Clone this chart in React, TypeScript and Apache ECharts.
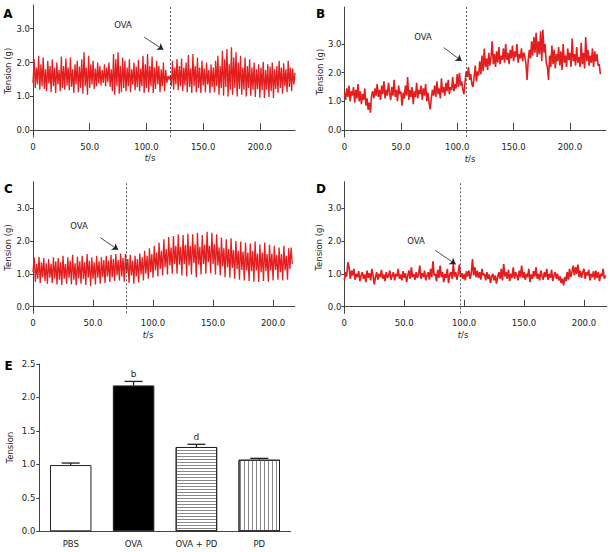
import React, { useEffect, useRef } from 'react';
import * as echarts from 'echarts';

// ---- trace data (tension in g, one reading every SAMPLE_STEP seconds) ----
const SAMPLE_STEP = 1;

const traceA = [
  1.40, 2.10, 1.25, 1.85, 1.35, 2.20, 1.20, 1.95, 1.30, 2.15,
  1.22, 1.80, 1.15, 2.05, 1.38, 1.90, 1.12, 2.10, 1.30, 1.85,
  1.10, 2.00, 1.35, 1.78, 1.15, 2.18, 1.25, 1.90, 1.20, 2.12,
  1.32, 1.85, 1.18, 2.15, 1.28, 1.80, 1.10, 1.95, 1.35, 2.05,
  1.12, 1.88, 1.25, 2.10, 1.08, 2.30, 1.30, 1.85, 1.05, 2.20,
  1.25, 1.95, 1.35, 2.05, 1.22, 1.82, 1.30, 2.00, 1.38, 1.90,
  1.32, 1.78, 1.40, 1.95, 1.30, 1.85, 1.42, 2.00, 1.28, 1.80,
  1.15, 2.25, 1.05, 2.10, 1.30, 2.30, 1.08, 1.90, 1.12, 2.15,
  1.25, 2.05, 1.15, 1.85, 1.30, 2.10, 1.12, 1.80, 1.35, 2.00,
  1.18, 1.88, 1.28, 2.08, 1.15, 1.82, 1.30, 2.20, 1.10, 1.95,
  1.25, 2.25, 1.12, 1.90, 1.30, 2.18, 1.10, 1.85, 1.22, 2.05,
  1.35, 1.90, 1.12, 1.80, 1.30, 2.00, 1.15, 1.78, 1.40, 1.60,
  1.50, 1.62, 1.30, 2.05, 1.20, 1.85, 1.35, 2.10, 1.18, 1.90,
  1.30, 2.12, 1.15, 1.85, 1.32, 2.00, 1.12, 2.22, 1.28, 1.82,
  1.10, 2.25, 1.30, 1.90, 1.12, 2.15, 1.25, 1.85, 1.10, 2.05,
  1.32, 1.82, 1.12, 2.00, 1.35, 1.78, 1.10, 1.95, 1.28, 1.85,
  1.12, 2.05, 1.30, 2.20, 1.05, 1.90, 1.25, 2.35, 1.02, 2.10,
  1.28, 2.40, 1.00, 1.95, 1.20, 2.45, 1.05, 2.15, 1.25, 2.30,
  1.00, 2.00, 1.22, 2.20, 1.05, 1.85, 1.20, 2.15, 1.00, 1.90,
  1.25, 2.10, 1.02, 1.85, 1.20, 2.00, 0.98, 1.80, 1.22, 1.95,
  0.96, 1.85, 1.18, 2.02, 0.95, 1.78, 1.20, 1.95, 0.98, 1.88,
  1.15, 2.00, 0.95, 1.80, 1.22, 1.90, 1.10, 2.05, 1.25, 1.85,
  1.08, 1.98, 1.30, 1.80, 1.12, 2.05, 1.28, 1.85, 1.15, 1.82,
  1.35, 1.70,
];

const traceB = [
  1.30, 1.05, 1.45, 1.15, 1.55, 1.00, 1.35, 1.20, 1.50, 0.95,
  1.40, 1.10, 1.60, 1.00, 1.35, 0.90, 1.25, 1.05, 1.45, 0.85,
  1.10, 0.70, 0.95, 0.60, 1.20, 1.35, 1.10, 1.45, 1.20, 1.60,
  1.15, 1.40, 1.05, 1.55, 1.25, 1.70, 1.10, 1.40, 1.20, 1.65,
  1.30, 1.05, 1.50, 1.20, 1.75, 1.15, 1.40, 1.00, 1.55, 1.25,
  1.35, 0.85, 1.30, 1.10, 1.55, 1.20, 1.85, 1.05, 1.40, 1.15,
  1.50, 0.90, 1.35, 1.15, 1.65, 1.10, 1.40, 1.25, 1.55, 1.05,
  1.45, 1.20, 1.60, 1.00, 1.30, 0.95, 0.72, 1.10, 1.40, 1.20,
  1.55, 1.15, 1.70, 1.25, 1.45, 1.10, 1.80, 1.30, 1.50, 1.20,
  1.65, 1.35, 1.75, 1.25, 1.50, 1.40, 1.85, 1.35, 1.60, 1.45,
  1.95, 1.50, 2.00, 1.55, 1.70, 1.40, 1.25, 1.70, 2.05, 1.85,
  2.20, 1.75, 1.95, 1.60, 1.50, 1.85, 2.25, 1.70, 2.05, 1.90,
  2.40, 1.95, 2.60, 2.05, 2.85, 2.20, 2.50, 2.10, 2.70, 2.25,
  2.55, 3.10, 2.30, 2.65, 2.20, 2.75, 2.35, 2.90, 2.30, 2.60,
  2.45, 2.85, 2.35, 3.00, 2.45, 2.70, 2.30, 2.80, 2.50, 2.95,
  2.40, 2.75, 2.55, 3.00, 2.35, 2.65, 2.50, 2.85, 2.40, 2.70,
  2.55, 2.30, 1.75, 2.45, 2.80, 2.50, 3.10, 2.60, 3.25, 2.70,
  3.40, 2.55, 3.10, 2.65, 3.45, 2.40, 3.50, 2.70, 3.00, 2.35,
  2.20, 1.75, 2.60, 2.20, 2.95, 2.30, 2.80, 2.15, 2.65, 2.40,
  2.90, 2.25, 2.75, 2.10, 3.00, 2.35, 2.60, 2.20, 2.85, 2.45,
  2.70, 2.20, 3.20, 2.40, 2.65, 2.25, 2.90, 2.35, 2.55, 2.20,
  3.05, 2.30, 2.70, 2.15, 3.25, 2.40, 2.80, 2.25, 2.60, 2.35,
  2.85, 2.20, 2.75, 2.40, 2.65, 2.25, 2.30, 1.95,
];

const traceC = [
  1.05, 1.50, 0.75, 1.30, 0.85, 1.52, 0.72, 1.35, 0.90, 1.48,
  0.78, 1.32, 0.70, 1.45, 0.88, 1.30, 0.72, 1.50, 0.85, 1.38,
  0.68, 1.48, 0.82, 1.35, 0.66, 1.55, 0.85, 1.30, 0.70, 1.50,
  0.88, 1.40, 0.68, 1.58, 0.82, 1.32, 0.65, 1.52, 0.86, 1.38,
  0.70, 1.55, 0.84, 1.35, 0.66, 1.60, 0.88, 1.40, 0.62, 1.50,
  0.85, 1.35, 0.68, 1.55, 0.88, 1.38, 0.70, 1.50, 0.90, 1.42,
  0.72, 1.55, 0.92, 1.40, 0.75, 1.58, 0.90, 1.45, 0.78, 1.60,
  0.95, 1.42, 0.80, 1.62, 0.92, 1.48, 0.76, 1.60, 1.00, 1.45,
  0.72, 1.58, 0.95, 1.40, 0.70, 1.55, 0.92, 1.45, 0.74, 1.62,
  0.98, 1.50, 0.80, 1.70, 1.00, 1.55, 0.85, 1.78, 1.05, 1.60,
  0.88, 1.85, 1.10, 1.65, 0.92, 1.95, 1.15, 1.70, 0.95, 2.05,
  1.20, 1.75, 0.98, 2.12, 1.25, 1.80, 1.00, 2.15, 1.30, 1.85,
  1.00, 2.20, 1.28, 1.82, 0.95, 2.18, 1.30, 1.88, 0.92, 2.22,
  1.25, 1.85, 0.98, 2.20, 1.32, 1.90, 0.90, 2.25, 1.28, 1.82,
  0.98, 2.18, 1.30, 1.88, 1.00, 2.28, 1.35, 1.85, 1.02, 2.25,
  1.30, 1.90, 0.98, 2.20, 1.25, 1.80, 0.95, 2.10, 1.22, 1.78,
  0.90, 2.05, 1.20, 1.75, 0.88, 2.08, 1.18, 1.72, 0.85, 2.00,
  1.15, 1.70, 0.82, 1.98, 1.12, 1.68, 0.80, 1.95, 1.10, 1.65,
  0.78, 1.92, 1.08, 1.70, 0.76, 1.98, 1.10, 1.62, 0.75, 1.90,
  1.05, 1.65, 0.78, 1.95, 1.08, 1.60, 0.76, 1.88, 1.10, 1.62,
  0.80, 1.85, 1.12, 1.58, 0.82, 1.80, 1.05, 1.60, 0.80, 1.85,
  1.10, 1.55, 0.82, 1.78, 1.15, 1.80, 1.30,
];

const traceD = [
  0.80, 1.05, 0.92, 1.35, 1.20, 0.85, 1.10, 0.95, 1.15, 0.82,
  1.00, 0.90, 1.08, 0.78, 0.95, 1.05, 0.85, 0.98, 0.75, 1.10,
  0.88, 1.02, 0.80, 1.15, 0.95, 0.68, 0.90, 1.05, 0.82, 1.00,
  0.90, 1.12, 0.85, 0.98, 0.78, 1.05, 0.88, 0.95, 1.10, 0.82,
  0.95, 1.05, 0.80, 1.00, 0.92, 1.15, 0.85, 0.98, 0.80, 1.08,
  0.88, 1.02, 0.75, 0.95, 1.10, 0.85, 1.20, 0.90, 1.00, 0.82,
  1.05, 0.88, 0.98, 1.25, 0.85, 1.02, 0.90, 1.10, 0.80, 0.95,
  1.05, 0.82, 1.15, 0.90, 1.38, 0.95, 1.00, 0.78, 1.12, 0.88,
  1.25, 0.90, 1.05, 0.75, 1.00, 0.88, 1.15, 0.72, 0.98, 1.05,
  0.85, 1.30, 0.92, 1.05, 0.82, 1.00, 1.28, 0.90, 1.02, 0.85,
  1.00, 0.80, 1.08, 0.92, 1.10, 0.85, 1.02, 1.45, 0.95, 1.20,
  0.90, 1.10, 0.88, 1.05, 0.82, 1.15, 0.95, 1.00, 0.80, 1.05,
  0.85, 0.98, 0.72, 0.92, 1.00, 0.80, 0.95, 0.70, 0.90, 1.05,
  0.85, 1.15, 0.80, 1.30, 0.92, 1.05, 0.85, 1.12, 0.78, 1.00,
  0.88, 1.20, 0.85, 1.05, 0.95, 0.80, 1.10, 0.90, 1.25, 0.88,
  1.05, 0.82, 1.00, 0.90, 1.15, 0.75, 0.98, 0.85, 1.08, 0.92,
  1.20, 0.85, 1.00, 0.80, 1.10, 0.95, 0.82, 1.05, 0.90, 1.15,
  0.82, 1.00, 0.88, 1.12, 0.78, 0.95, 1.05, 0.85, 1.00, 0.80,
  0.92, 0.72, 0.85, 0.65, 0.90, 0.78, 1.05, 0.82, 1.15, 0.90,
  1.05, 1.25, 0.95, 1.20, 1.00, 1.28, 0.90, 1.10, 0.88, 1.05,
  1.15, 0.85, 1.05, 0.95, 1.12, 0.80, 1.00, 0.90, 1.08, 0.82,
  1.10, 0.88, 1.05, 0.78, 1.00, 0.92, 1.15, 0.85, 0.95,
];

const traces = [traceA, traceB, traceC, traceD];
const panelLetters = ['A', 'B', 'C', 'D'];
const ovaTimes = [121, 108, 78, 97];
const xMaxes = [231, 232, 218, 219];
const yMins = [-0.2, -0.25, -0.2, -0.2];
const yMaxes = [3.7, 4.3, 3.8, 3.8];
const xTickValues = [0, 50, 100, 150, 200];
const yTickValues = [0, 1, 2, 3];

// ---- bar panel E ----
const groups = ['PBS', 'OVA', 'OVA + PD', 'PD'];
const tensionMean = [0.99, 2.18, 1.26, 1.07];
const tensionErr = [0.03, 0.06, 0.04, 0.02];
const sigMarks = ['', 'b', 'd', ''];
const eTicks = [0, 0.5, 1.0, 1.5, 2.0, 2.5];

const FONT = 'DejaVu Sans';
const RED = '#e41e1e';
const AXIS = '#444';
const TXT = '#222';
const TRACE_WIDTHS = [1.3, 1.6, 1.3, 1.7];

export default function App() {
  const ref = useRef<HTMLDivElement>(null);

  useEffect(() => {
    if (!ref.current) return;
    const chart = echarts.init(ref.current, undefined, { renderer: 'svg' });

    const grids = [
      { left: 33, top: 5, width: 262, height: 132 },
      { left: 344.5, top: 7, width: 261.5, height: 130 },
      { left: 33, top: 181.7, width: 261.7, height: 131.6 },
      { left: 344.3, top: 181.7, width: 262.4, height: 131.6 },
      { left: 39.3, top: 364, width: 251.4, height: 167.3 },
    ].map((g) => ({ ...g, containLabel: false, outerBoundsMode: 'none' }));

    // arrow (start, end) in data coordinates for each panel
    const arrows = [
      [[98, 2.75], [115, 2.38]],
      [[88, 2.88], [104, 2.41]],
      [[56, 2.1], [71, 1.73]],
      [[76, 1.71], [93, 1.29]],
    ];

    const labelStyle = { fontFamily: FONT, fontSize: 8.5, color: TXT };

    const xAxes: any[] = traces.map((_, i) => ({
      type: 'value',
      gridIndex: i,
      min: 0,
      max: xMaxes[i],
      axisLine: { show: true, lineStyle: { color: AXIS, width: 1 } },
      axisTick: { show: true, inside: true, length: 7, customValues: xTickValues, lineStyle: { color: AXIS } },
      axisLabel: {
        ...labelStyle,
        margin: 5,
        customValues: xTickValues,
        formatter: (v: number) => (v === 0 ? '0' : v.toFixed(1)),
      },
      splitLine: { show: false },
    }));
    xAxes.push({
      type: 'category',
      gridIndex: 4,
      data: groups,
      axisLine: { show: true, lineStyle: { color: AXIS, width: 1 } },
      axisTick: { show: false },
      axisLabel: { ...labelStyle, margin: 8 },
    });

    const yAxes: any[] = traces.map((_, i) => ({
      type: 'value',
      gridIndex: i,
      min: yMins[i],
      max: yMaxes[i],
      name: 'Tension (g)',
      nameLocation: 'middle',
      nameGap: 19,
      nameTextStyle: { ...labelStyle },
      axisLine: { show: true, lineStyle: { color: AXIS, width: 1 } },
      axisTick: { show: true, length: 3, customValues: yTickValues, lineStyle: { color: AXIS } },
      axisLabel: { ...labelStyle, margin: 3, customValues: yTickValues, formatter: (v: number) => v.toFixed(1) },
      splitLine: { show: false },
    }));
    yAxes.push({
      type: 'value',
      gridIndex: 4,
      min: 0,
      max: 2.5,
      interval: 0.5,
      name: 'Tension',
      nameLocation: 'middle',
      nameGap: 25,
      nameTextStyle: { ...labelStyle },
      axisLine: { show: true, lineStyle: { color: AXIS, width: 1 } },
      axisTick: { show: true, length: 3, lineStyle: { color: AXIS } },
      axisLabel: { ...labelStyle, margin: 4, customValues: eTicks, formatter: (v: number) => v.toFixed(1) },
      splitLine: { show: false },
    });

    const lineSeries = traces.map((trace, i) => ({
      type: 'line',
      xAxisIndex: i,
      yAxisIndex: i,
      data: trace.map((v, k) => [k * SAMPLE_STEP, v]),
      showSymbol: false,
      symbol: 'none',
      silent: true,
      lineStyle: { color: RED, width: TRACE_WIDTHS[i], join: 'miter', miterLimit: 2 },
      itemStyle: { color: RED },
      markLine: {
        silent: true,
        symbol: ['none', 'none'],
        symbolSize: 6,
        label: { show: false },
        data: [
          { xAxis: ovaTimes[i], lineStyle: { type: [2, 2], color: '#333', width: 0.8 } },
          { yAxis: 0, lineStyle: { type: 'solid', color: AXIS, width: 1 } },
          [
            { coord: arrows[i][0], symbol: 'none', lineStyle: { type: 'solid', color: '#222', width: 0.8 } },
            { coord: arrows[i][1], symbol: 'arrow', symbolSize: 6, lineStyle: { type: 'solid', color: '#222', width: 0.8 } },
          ],
        ],
      },
    }));

    const barPatterns = [
      { color: '#fff' },
      { color: '#000' },
      {
        color: '#fff',
        decal: { symbol: 'rect', symbolSize: 1, dashArrayX: [1, 0], dashArrayY: [1, 2], color: '#888', backgroundColor: '#fff' },
      },
      {
        color: '#fff',
        decal: { symbol: 'rect', symbolSize: 1, dashArrayX: [1, 3], dashArrayY: [1, 0], color: '#888', backgroundColor: '#fff' },
      },
    ];

    const barSeries = {
      type: 'bar',
      xAxisIndex: 4,
      yAxisIndex: 4,
      barWidth: '66%',
      silent: true,
      data: tensionMean.map((v, k) => ({
        value: v,
        itemStyle: { ...barPatterns[k], borderColor: '#222', borderWidth: 1 },
      })),
    };

    const errSeries = {
      type: 'custom',
      xAxisIndex: 4,
      yAxisIndex: 4,
      silent: true,
      z: 5,
      data: tensionMean.map((v, k) => [k, v, tensionErr[k]]),
      encode: { x: 0, y: 1 },
      renderItem: (params: any, api: any) => {
        const idx = api.value(0);
        const m = api.value(1);
        const e = api.value(2);
        const base = api.coord([idx, m]);
        const top = api.coord([idx, m + e]);
        const half = 9;
        const children: any[] = [
          { type: 'line', shape: { x1: base[0], y1: base[1], x2: top[0], y2: top[1] }, style: { stroke: '#222', lineWidth: 1.3 } },
          { type: 'line', shape: { x1: top[0] - half, y1: top[1], x2: top[0] + half, y2: top[1] }, style: { stroke: '#222', lineWidth: 1.3 } },
        ];
        const mark = sigMarks[idx];
        if (mark) {
          children.push({
            type: 'text',
            x: top[0],
            y: top[1] - 3,
            style: { text: mark, align: 'center', verticalAlign: 'bottom', textAlign: 'center', textVerticalAlign: 'bottom', fontFamily: FONT, fontSize: 9, fill: TXT },
          });
        }
        return { type: 'group', children };
      },
    };

    const txt = (text: string, x: number, y: number, extra: any = {}) => ({
      type: 'text',
      x,
      y,
      silent: true,
      style: {
        text,
        fontFamily: FONT,
        fontSize: 8.5,
        fill: TXT,
        align: 'center',
        verticalAlign: 'middle',
        textAlign: 'center',
        textVerticalAlign: 'middle',
        ...extra,
      },
    });

    const letterPos = [[8, 14], [320.5, 14], [8.5, 189], [321, 189]];
    const ovaPos = [[123, 25], [423, 36.7], [79, 226], [416, 240.7]];
    const tsPos = [[150, 158], [470, 159], [148, 335], [463, 335]];

    const graphic: any[] = [];
    panelLetters.forEach((l, i) => {
      graphic.push(txt(l, letterPos[i][0], letterPos[i][1], { fontSize: 12, fontWeight: 'bold', fill: '#000' }));
      graphic.push(txt('OVA', ovaPos[i][0], ovaPos[i][1]));
      graphic.push(txt('{i|t}/s', tsPos[i][0], tsPos[i][1], { rich: { i: { fontStyle: 'italic', fontFamily: FONT, fontSize: 8.5, fill: TXT } } }));
    });
    graphic.push(txt('E', 8.5, 366, { fontSize: 12, fontWeight: 'bold', fill: '#000' }));

    chart.setOption({
      animation: false,
      backgroundColor: '#fff',
      textStyle: { fontFamily: FONT },
      grid: grids,
      xAxis: xAxes,
      yAxis: yAxes,
      series: [...lineSeries, barSeries, errSeries],
      graphic,
    });

    return () => chart.dispose();
  }, []);

  return <div ref={ref} style={{ position: 'fixed', left: 0, top: 0, width: 611, height: 552 }} />;
}
